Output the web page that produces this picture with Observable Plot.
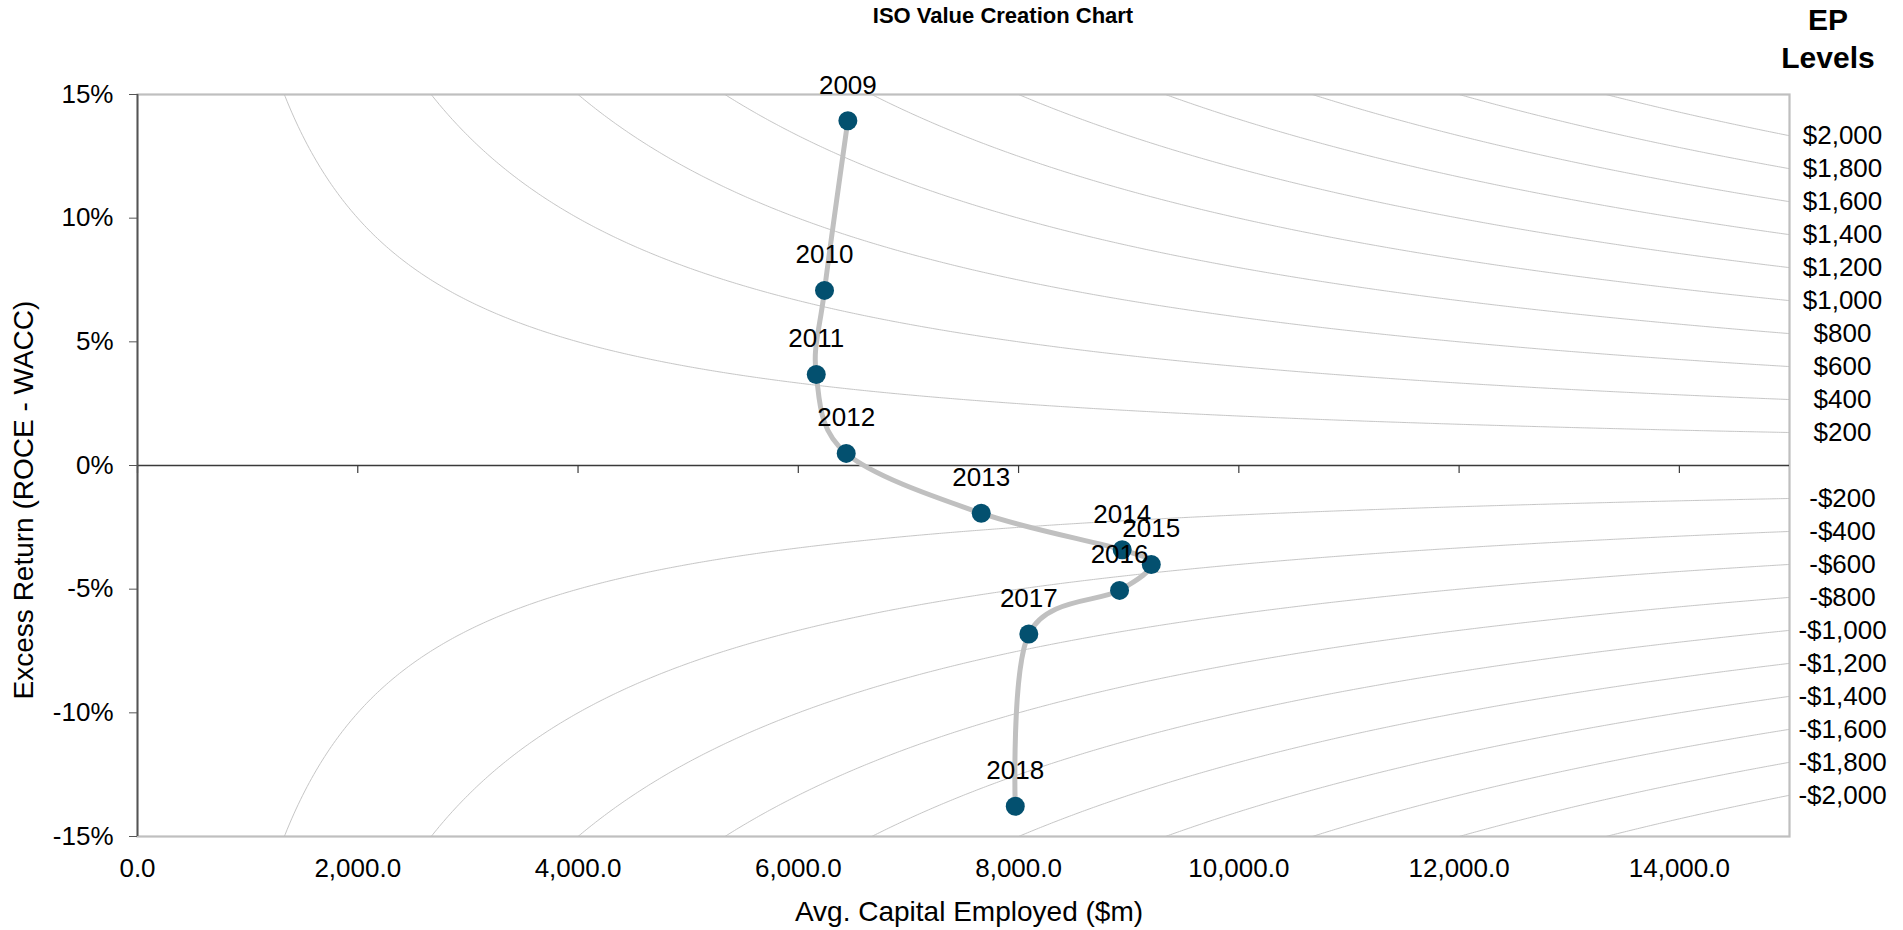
<!DOCTYPE html>
<html>
<head>
<meta charset="utf-8">
<script src="https://cdn.jsdelivr.net/npm/d3@7"></script>
<script src="https://cdn.jsdelivr.net/npm/@observablehq/plot@0.6"></script>
<style>
  body { margin: 0; background: #fff; font-family: "Liberation Sans", Arial, sans-serif; }
  #wrap { position: relative; width: 1903px; height: 930px; overflow: hidden; }
  .abs { position: absolute; white-space: nowrap; color: #000; }
  #title { left: 503px; width: 1000px; top: 5px; text-align: center; font-weight: bold; font-size: 22px; line-height: 22px; }
  #ep { left: 1728px; width: 200px; top: 1px; text-align: center; font-weight: bold; font-size: 30px; line-height: 38px; }
  #xtitle { left: 669px; width: 600px; top: 898px; text-align: center; font-size: 28px; line-height: 28px; }
  #ytitle { left: -276px; width: 600px; top: 486px; text-align: center; font-size: 28px; line-height: 28px; transform: rotate(-90deg); transform-origin: 50% 50%; }
</style>
</head>
<body>
<div id="wrap">
  <div id="chart"></div>
  <div class="abs" id="title">ISO Value Creation Chart</div>
  <div class="abs" id="ep">EP<br>Levels</div>
  <div class="abs" id="xtitle">Avg. Capital Employed ($m)</div>
  <div class="abs" id="ytitle">Excess Return (ROCE - WACC)</div>
</div>
<script>
// ---- data ----
const years = [2009, 2010, 2011, 2012, 2013, 2014, 2015, 2016, 2017, 2018];
const capitalEmployed = [6450, 6238, 6163, 6435, 7661, 8941, 9205, 8917, 8093, 7970]; // $m
const excessReturn = [13.94, 7.08, 3.68, 0.49, -1.93, -3.41, -4.00, -5.05, -6.81, -13.78]; // %
const epLevels = [2000, 1800, 1600, 1400, 1200, 1000, 800, 600, 400, 200,
                  -200, -400, -600, -800, -1000, -1200, -1400, -1600, -1800, -2000];
const xTicks = [0, 2000, 4000, 6000, 8000, 10000, 12000, 14000];
const yTicks = [-15, -10, -5, 0, 5, 10, 15];
const xDomain = [0, 15000];
const yDomain = [-15, 15];

// ---- tables built from the arrays ----
const points = years.map((year, i) => ({year: String(year), capital: capitalEmployed[i], er: excessReturn[i]}));
// iso-EP curves: EP = capital x excess return (definition of the chart's reference lines)
const isoCapital = d3.range(1000, xDomain[1] + 1, 20);
const isoData = epLevels.flatMap(ep => isoCapital.map(c => ({ep, capital: c, er: ep / c * 100})));
const fmtEP = d => (d < 0 ? "-$" : "$") + d3.format(",")(Math.abs(d));

const chart = Plot.plot({
  width: 1903,
  height: 930,
  marginLeft: 137,
  marginRight: 114,
  marginTop: 94,
  marginBottom: 94,
  style: {fontSize: "26px", fontFamily: "'Liberation Sans', Arial, sans-serif", color: "#000", background: "#fff", overflow: "visible"},
  x: {domain: xDomain},
  y: {domain: yDomain},
  marks: [
    Plot.line(isoData, {x: "capital", y: "er", z: "ep", stroke: "#c6c6c6", strokeWidth: 1, clip: true}),
    Plot.frame({stroke: "#bfbfbf", strokeWidth: 2.2}),
    Plot.ruleY([0], {stroke: "#3a3a3a", strokeWidth: 1.5}),
    Plot.ruleX(xTicks, {x: d => d, y1: 0, y2: 0, insetBottom: -8, stroke: "#3a3a3a", strokeWidth: 1.2}),
    Plot.ruleX([0], {stroke: "#555", strokeWidth: 1.8}),
    Plot.axisY({ticks: yTicks, tickSize: 8, tickPadding: 16, tickFormat: d => d + "%", label: null, stroke: "#555", fontSize: 26}),
    Plot.axisX({ticks: xTicks, tickSize: 0, tickPadding: 22, tickFormat: d3.format(",.1f"), label: null, fontSize: 26}),
    Plot.line(points, {x: "capital", y: "er", curve: "cardinal", stroke: "#c0c0c0", strokeWidth: 5}),
    Plot.dot(points, {x: "capital", y: "er", r: 9.5, fill: "#03506f", stroke: "none"}),
    Plot.text(points, {x: "capital", y: "er", text: "year", dy: -27, lineAnchor: "bottom", fontSize: 26, fill: "#000"}),
    Plot.text(epLevels, {x: () => xDomain[1], y: d => d / xDomain[1] * 100, text: fmtEP, dx: 53, textAnchor: "middle", lineAnchor: "middle", fontSize: 26, fill: "#000"})
  ]
});
document.getElementById("chart").appendChild(chart);
</script>
</body>
</html>
